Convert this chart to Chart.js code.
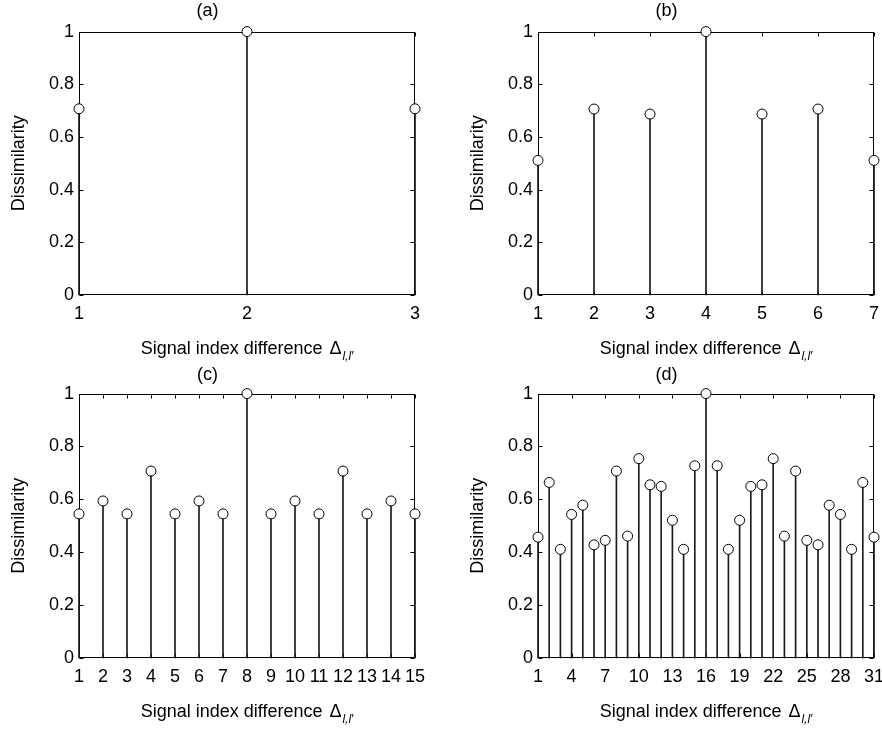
<!DOCTYPE html>
<html>
<head>
<meta charset="utf-8">
<script src="https://cdn.jsdelivr.net/npm/chart.js@4.4.1/dist/chart.umd.min.js"></script>
<style>
  html, body { margin: 0; padding: 0; background: #fff; }
  body { width: 882px; height: 729px; position: relative; overflow: hidden; font-family: "Liberation Sans", Arial, sans-serif; }
  .panel { position: absolute; }
  .xlabel { position: absolute; text-align: center; font-size: 18px; line-height: 20px; color: #000; white-space: nowrap; }
  .xlabel .sub { font-style: italic; font-size: 12px; position: relative; top: 6px; margin-left: 1px; }
  .xlabel .delta { margin-left: 7px; }
</style>
</head>
<body>
<canvas id="ca" class="panel" width="441" height="364" style="left:0px;top:0px"></canvas>
<canvas id="cb" class="panel" width="441" height="364" style="left:441px;top:0px"></canvas>
<canvas id="cc" class="panel" width="441" height="365" style="left:0px;top:364px"></canvas>
<canvas id="cd" class="panel" width="441" height="365" style="left:441px;top:364px"></canvas>
<script>
// ---- data ----
const catA = [1, 2, 3];
const valsA = [0.707, 1.0, 0.707];

const catB = [1, 2, 3, 4, 5, 6, 7];
const valsB = [0.511, 0.706, 0.687, 1.0, 0.687, 0.706, 0.511];

const catC = [1, 2, 3, 4, 5, 6, 7, 8, 9, 10, 11, 12, 13, 14, 15];
const valsC = [0.545, 0.594, 0.545, 0.707, 0.545, 0.594, 0.545, 1.0, 0.545, 0.594, 0.545, 0.707, 0.545, 0.594, 0.545];

const catD = [1, 2, 3, 4, 5, 6, 7, 8, 9, 10, 11, 12, 13, 14, 15, 16, 17, 18, 19, 20, 21, 22, 23, 24, 25, 26, 27, 28, 29, 30, 31];
const valsD = [0.457, 0.664, 0.411, 0.543, 0.578, 0.428, 0.445, 0.707, 0.461, 0.754, 0.655, 0.649, 0.521, 0.411, 0.727, 1.0,
               0.727, 0.411, 0.521, 0.649, 0.655, 0.754, 0.461, 0.707, 0.445, 0.428, 0.578, 0.543, 0.411, 0.664, 0.457];

const xTicksA = [1, 2, 3];
const xTicksB = [1, 2, 3, 4, 5, 6, 7];
const xTicksC = [1, 2, 3, 4, 5, 6, 7, 8, 9, 10, 11, 12, 13, 14, 15];
const xTicksD = [1, 4, 7, 10, 13, 16, 19, 22, 25, 28, 31];

const yTicks = [0, 0.2, 0.4, 0.6, 0.8, 1];
const yTickLabels = ['0', '0.2', '0.4', '0.6', '0.8', '1'];

const panelTitles = ['(a)', '(b)', '(c)', '(d)'];
const yTitle = 'Dissimilarity';
const xTitleMain = 'Signal index difference';
const xTitleDelta = '\u0394';
const xTitleSub = 'l,l\u2032';

// ---- styling helpers ----
Chart.defaults.color = '#000';
Chart.defaults.font.family = '"Liberation Sans", Arial, sans-serif';
const FONT = 18;

const frameTicks = {
  id: 'frameTicks',
  beforeDatasetsDraw(chart) {
    const { ctx, chartArea: ca, scales: { x, y } } = chart;
    const L = Math.round(ca.left) + 0.5, R = Math.round(ca.right) - 0.5;
    const T = Math.round(ca.top) + 0.5, B = Math.round(ca.bottom) - 0.5;
    const len = 4;
    ctx.save();
    ctx.strokeStyle = '#000';
    ctx.lineWidth = 1;
    ctx.beginPath();
    x.ticks.forEach(t => {
      const px = Math.round(x.getPixelForValue(t.value)) + 0.5;
      ctx.moveTo(px, B); ctx.lineTo(px, B - len);
      ctx.moveTo(px, T); ctx.lineTo(px, T + len);
    });
    y.ticks.forEach(t => {
      const py = Math.round(y.getPixelForValue(t.value)) + 0.5;
      ctx.moveTo(L, py); ctx.lineTo(L + len, py);
      ctx.moveTo(R, py); ctx.lineTo(R - len, py);
    });
    ctx.stroke();
    ctx.strokeRect(L, T, R - L, B - T);
    ctx.restore();
  }
};

function makePanel(canvasId, cats, vals, xTicks, title, geom) {
  const stemData = cats.map((c, i) => ({ x: c, y: vals[i] }));
  const pointData = cats.map((c, i) => ({ x: c, y: vals[i] }));
  const chart = new Chart(document.getElementById(canvasId), {
    type: 'bar',
    data: {
      datasets: [
        {
          type: 'line',
          data: pointData,
          showLine: false,
          pointRadius: 5,
          pointBorderWidth: 1,
          pointBorderColor: '#000',
          pointBackgroundColor: '#fff',
          clip: false,
          order: 0
        },
        {
          type: 'bar',
          data: stemData,
          backgroundColor: '#1a1a1a',
          borderWidth: 0,
          barThickness: 1,
          clip: false,
          order: 1
        }
      ]
    },
    options: {
      responsive: false,
      devicePixelRatio: 1,
      animation: false,
      events: [],
      layout: { padding: { left: geom.padLeft, right: geom.padRight, top: 0, bottom: 0 } },
      plugins: {
        legend: { display: false },
        tooltip: { enabled: false },
        title: {
          display: true,
          text: title,
          color: '#000',
          font: { size: FONT, weight: 'normal', lineHeight: 1.2 },
          padding: { top: 0, bottom: geom.titleGap }
        }
      },
      scales: {
        x: {
          type: 'linear',
          min: cats[0],
          max: cats[cats.length - 1],
          offset: false,
          grid: { display: false, drawTicks: false, offset: false },
          border: { display: false },
          ticks: { font: { size: FONT }, padding: 8, maxRotation: 0, autoSkip: false, color: '#000' },
          afterBuildTicks(scale) { scale.ticks = xTicks.map(v => ({ value: v })); },
          afterFit(scale) { scale.height = geom.bottom; scale.paddingLeft = 0; scale.paddingRight = 0; }
        },
        y: {
          type: 'linear',
          min: 0,
          max: 1,
          grid: { display: false, drawTicks: false },
          border: { display: false },
          ticks: {
            font: { size: FONT }, padding: 5, color: '#000',
            callback(v) { const i = yTicks.findIndex(t => Math.abs(t - v) < 1e-9); return i >= 0 ? yTickLabels[i] : ''; }
          },
          afterBuildTicks(scale) { scale.ticks = yTicks.map(v => ({ value: v })); },
          afterFit(scale) { scale.width = geom.yWidth; scale.paddingTop = 0; scale.paddingBottom = 0; },
          title: {
            display: true,
            text: yTitle,
            color: '#000',
            font: { size: FONT, lineHeight: 1.2 },
            padding: { top: 8.5, bottom: 0 }
          }
        }
      }
    },
    plugins: [frameTicks]
  });
  // x-axis title as real HTML text with subscript
  const cv = chart.canvas;
  const ca = chart.chartArea;
  const div = document.createElement('div');
  div.className = 'xlabel';
  div.style.left = (cv.offsetLeft + ca.left) + 'px';
  div.style.width = (ca.right - ca.left) + 'px';
  div.style.top = (cv.offsetTop + ca.bottom + 53 - 10) + 'px';
  const main = document.createElement('span');
  main.textContent = xTitleMain;
  const delta = document.createElement('span');
  delta.className = 'delta';
  delta.textContent = xTitleDelta;
  const sub = document.createElement('span');
  sub.className = 'sub';
  sub.textContent = xTitleSub;
  div.appendChild(main); div.appendChild(delta); div.appendChild(sub);
  document.body.appendChild(div);
  return chart;
}

makePanel('ca', catA, valsA, xTicksA, panelTitles[0], { padLeft: 0, padRight: 26, yWidth: 79, bottom: 69, titleGap: 10 });
makePanel('cb', catB, valsB, xTicksB, panelTitles[1], { padLeft: 18, padRight: 8, yWidth: 79, bottom: 69, titleGap: 10 });
makePanel('cc', catC, valsC, xTicksC, panelTitles[2], { padLeft: 0, padRight: 26, yWidth: 79, bottom: 71, titleGap: 8 });
makePanel('cd', catD, valsD, xTicksD, panelTitles[3], { padLeft: 18, padRight: 8, yWidth: 79, bottom: 71, titleGap: 8 });
</script>
</body>
</html>
